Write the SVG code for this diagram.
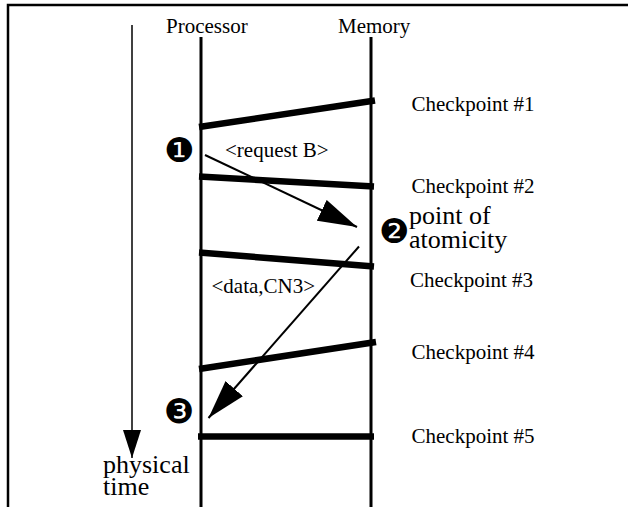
<svg xmlns="http://www.w3.org/2000/svg" width="628" height="507" viewBox="0 0 628 507">
<style>
.lbl{font-size:21px}
.big{font-size:26px}
.num{font-size:34px;font-family:"DejaVu Sans",sans-serif}
.life{stroke:#000;stroke-width:3;fill:none}
.cp{stroke:#000;stroke-width:6.5;fill:none}
.msg{stroke:#000;stroke-width:2;fill:none}
</style>
<defs>
<marker id="big" viewBox="0 0 39 23" refX="39" refY="11.5" markerWidth="39" markerHeight="23" markerUnits="userSpaceOnUse" orient="auto">
<path d="M0,0 L39,11.5 L0,23 Z" fill="#000"/>
</marker>
<marker id="tarr" viewBox="0 0 28 18" refX="28" refY="9" markerWidth="28" markerHeight="18" markerUnits="userSpaceOnUse" orient="auto">
<path d="M0,0 L28,9 L0,18 Z" fill="#000"/>
</marker>
</defs>
<g id="frame">
<path d="M8,507 V5 H628" stroke="#000" stroke-width="2.5" fill="none"/>
</g>
<g font-family="'Liberation Serif', 'DejaVu Serif', serif" fill="#000">
<g id="time-axis">
<line x1="132" y1="25" x2="132" y2="458" stroke="#000" stroke-width="1.5" marker-end="url(#tarr)"/>
<text class="big" x="103" y="473">physical</text>
<text class="big" x="103" y="495">time</text>
</g>
<g id="processor">
<text class="lbl" x="166" y="33">Processor</text>
<line class="life" x1="201" y1="37" x2="201" y2="507"/>
</g>
<g id="memory">
<text class="lbl" x="338" y="33">Memory</text>
<line class="life" x1="371" y1="37" x2="371" y2="507"/>
</g>
<g id="checkpoints">
<line class="cp" x1="199" y1="127" x2="375" y2="100.5"/>
<line class="cp" x1="199" y1="176.5" x2="374" y2="186.5"/>
<line class="cp" x1="199" y1="252.5" x2="374" y2="266.5"/>
<line class="cp" x1="199" y1="369" x2="376" y2="342"/>
<line class="cp" x1="198" y1="436.5" x2="374" y2="436.5"/>
</g>
<g id="checkpoint-labels">
<text class="lbl" x="411.5" y="110.5">Checkpoint #1</text>
<text class="lbl" x="411.5" y="193">Checkpoint #2</text>
<text class="lbl" x="410" y="287">Checkpoint #3</text>
<text class="lbl" x="411.5" y="359">Checkpoint #4</text>
<text class="lbl" x="411.5" y="443">Checkpoint #5</text>
</g>
<g id="connectors">
<line class="msg" x1="205" y1="155" x2="357" y2="227" marker-end="url(#big)"/>
<line class="msg" x1="359" y1="246.5" x2="208.5" y2="418" marker-end="url(#big)"/>
</g>
<g id="labels">
<text class="lbl" x="225" y="157">&lt;request B&gt;</text>
<text class="lbl" x="211.5" y="293">&lt;data,CN3&gt;</text>
<text class="num" x="164" y="162">❶</text>
<text class="num" x="379" y="242.5">❷</text>
<text class="num" x="164" y="423">❸</text>
<text class="big" x="409" y="224">point of</text>
<text class="big" x="409" y="248">atomicity</text>
</g>
</g>
</svg>
